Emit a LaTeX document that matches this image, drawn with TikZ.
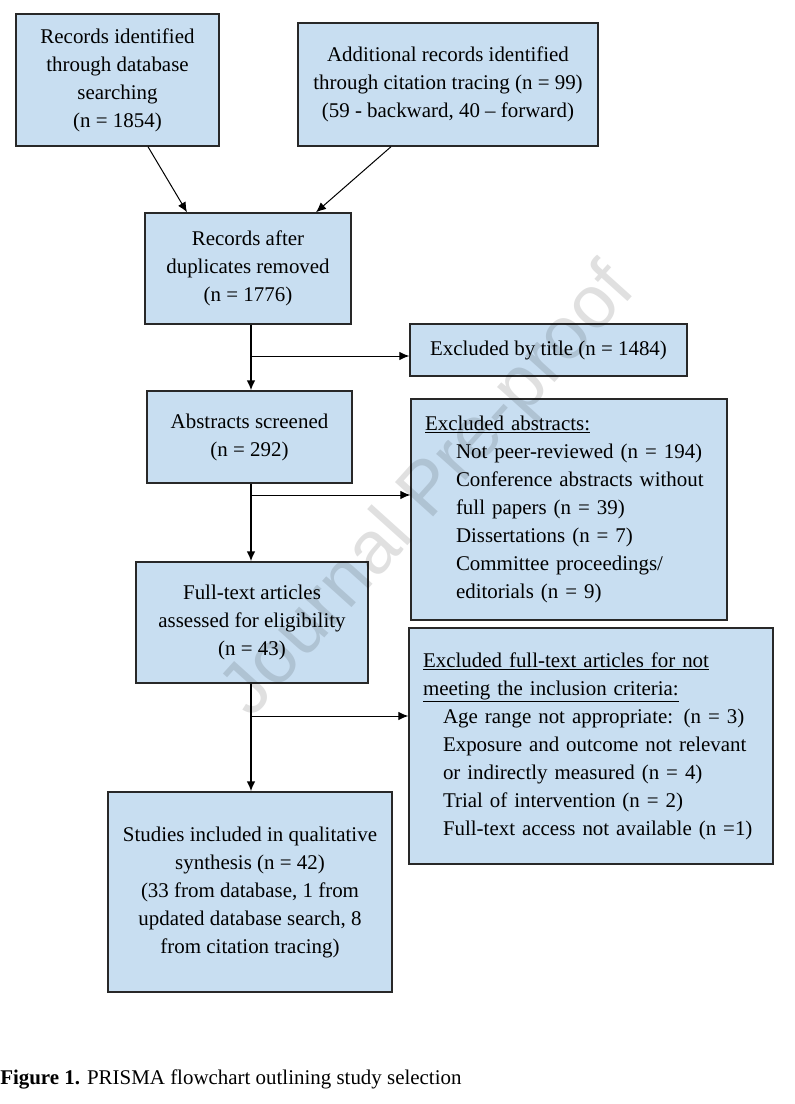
\documentclass[tikz,border=0pt]{standalone}
\usepackage{fontspec}
\setmainfont{Liberation Serif}
\newfontfamily\wmfont{Liberation Sans}
\usepackage{xcolor}
\usepackage{tikz}
\usetikzlibrary{arrows.meta,calc,positioning}
\definecolor{boxfill}{RGB}{200,222,241}
\definecolor{boxline}{RGB}{40,40,40}
\newcommand{\boxfont}{\fontsize{15.7pt}{21pt}\selectfont}
\newcommand{\absind}{\hspace*{23.25pt}}
\newcommand{\fullind}{\hspace*{15pt}}
\tikzset{
  stage/.style={draw=boxline,fill=boxfill,line width=1.1pt,align=center,
    inner sep=0pt,font=\boxfont},
  excl/.style={stage,align=left,inner xsep=10.5pt},
  flow/.style={-{Latex[length=7.5pt,width=6.5pt]},line width=1.1pt},
  side/.style={flow,line width=0.75pt},
  watermark/.style={rotate=48,text=black,text opacity=0.12,
    font=\wmfont\fontsize{56pt}{56pt}\selectfont}
}

\begin{document}
\begin{tikzpicture}[x=0.75pt,y=-0.75pt]
  \useasboundingbox (0,0) rectangle (794,1104);
  \node[stage,minimum width=152.25pt,minimum height=99pt] (rec) at (117.5,80)
    {Records identified\\through database\\searching\\(n = 1854)};
  \node[stage,minimum width=225pt,minimum height=92.25pt] (addrec) at (448,84.5)
    {Additional records identified\\through citation tracing (n = 99)\\(59 - backward, 40 -- forward)};
  \node[stage,minimum width=154.5pt,minimum height=83.25pt] (dedup) at (248,268.5)
    {Records after\\duplicates removed\\(n = 1776)};
  \node[stage,minimum width=207.75pt,minimum height=39pt] (exctitle) at (548.5,350)
    {Excluded by title (n = 1484)};
  \node[stage,minimum width=153.75pt,minimum height=69pt] (abstr) at (249.5,437)
    {Abstracts screened\\(n = 292)};
  \node[excl,text width=216pt,minimum height=165.75pt] (excabstr) at (569,509.5)
    {\underline{Excluded abstracts:}\\
     \absind Not peer-reviewed (n = 194)\\
     \absind Conference abstracts without\\
     \absind full papers (n = 39)\\
     \absind Dissertations (n = 7)\\
     \absind Committee proceedings/\\
     \absind editorials (n = 9)};
  \node[stage,minimum width=174pt,minimum height=90.75pt] (fulltext) at (252,622.5)
    {Full-text articles\\assessed for eligibility\\(n = 43)};
  \node[excl,text width=252pt,minimum height=177pt] (excfull) at (591,746)
    {\underline{Excluded full-text articles for not}\\
     \underline{meeting the inclusion criteria:}\\
     \fullind Age range not appropriate: (n = 3)\\
     \fullind Exposure and outcome not relevant\\
     \fullind or indirectly measured (n = 4)\\
     \fullind Trial of intervention (n = 2)\\
     \fullind Full-text access not available (n =1)};
  \node[stage,minimum width=213pt,minimum height=150pt] (incl) at (250,892)
    {Studies included in qualitative\\synthesis (n = 42)\\(33 from database, 1 from\\updated database search, 8\\from citation tracing)};

  \coordinate (s1) at (251,356);
  \coordinate (s2) at (251,495);
  \coordinate (s3) at (251,716);
  \draw[side] ($(rec.south)+(30.5,0)$) -- ($(dedup.north)+(-61,0)$);
  \draw[side] ($(addrec.south)+(-57,0)$) -- ($(dedup.north)+(68,0)$);
  \draw[flow] (dedup.south -| s1) -- (abstr.north -| s1);
  \draw[flow] (abstr.south -| s2) -- (fulltext.north -| s2);
  \draw[flow] (fulltext.south -| s3) -- (incl.north -| s3);
  \draw[side] (s1) -- (s1 -| exctitle.west);
  \draw[side] (s2) -- (s2 -| excabstr.west);
  \draw[side] (s3) -- (s3 -| excfull.west);

  \node[anchor=base west,inner sep=0pt,font=\boxfont] (cap) at (0,1084)
    {\textbf{Figure 1.} PRISMA flowchart outlining study selection};
  \node[watermark] (wm) at (430,492) {Journal Pre-proof};
\end{tikzpicture}
\end{document}
